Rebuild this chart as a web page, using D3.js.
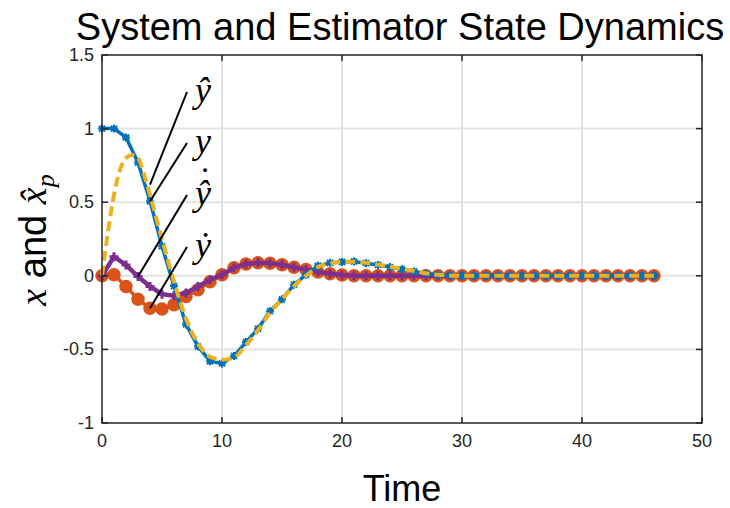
<!DOCTYPE html>
<html><head><meta charset="utf-8">
<script src="https://cdn.jsdelivr.net/npm/d3@7"></script>
<style>body{margin:0;background:#fff}svg{display:block}</style>
</head><body><svg id="c" width="730" height="508"></svg>
<script>
// ---- data ----
const time = d3.range(0, 47); // 0..46
const ySys = [1.0,1.0,0.94,0.77,0.507,0.20,-0.07,-0.33,-0.48,-0.58,-0.595,-0.545,-0.45,-0.36,-0.24,-0.16,-0.06,0.007,0.068,0.088,0.094,0.097,0.086,0.074,0.059,0.045,0.029,0.015,0.006,0.002,0,0,0,0,0,0,0,0,0,0,0,0,0,0,0,0,0];
const estTime = [0,0.5,1,1.5,2,2.5,3,3.5,4,5,6,7,8,9,10,11,12,13,14,15,16,17,18,19,20,21,22,23,24,25,26,27,28,29,30,35,40,46];
const yHat = [0,0.3,0.55,0.72,0.80,0.82,0.80,0.69,0.55,0.25,-0.04,-0.29,-0.46,-0.55,-0.57,-0.555,-0.47,-0.37,-0.25,-0.16,-0.07,0.0,0.06,0.085,0.095,0.096,0.088,0.076,0.062,0.047,0.032,0.017,0.007,0.002,0,0,0,0];
const yDot = [0,0.007,-0.072,-0.16,-0.22,-0.225,-0.196,-0.14,-0.095,-0.04,0.007,0.055,0.08,0.088,0.085,0.075,0.058,0.042,0.026,0.014,0.006,0.001,0,0,0,0,0,0,0,0,0,0,0,0,0,0,0,0,0,0,0,0,0,0,0,0,0];
const yDotHat = [0,0.13,0.074,-0.005,-0.072,-0.125,-0.135,-0.117,-0.072,-0.027,0.007,0.055,0.08,0.088,0.085,0.075,0.058,0.042,0.026,0.014,0.006,0.001,0,0,0,0,0,0,0,0,0,0,0,0,0,0,0,0,0,0,0,0,0,0,0,0,0];
const xTicks = [0,10,20,30,40,50];
const yTicks = [-1,-0.5,0,0.5,1,1.5];
const titleText = "System and Estimator State Dynamics";
const xLabel = "Time";
// annotations: label, extra dot above, anchor point on curve, label height
const notes = [
  {label:"y\u0302", dot:false, t:4, v:0.62, ty:92},
  {label:"y", dot:false, t:4, v:0.507, ty:143},
  {label:"y\u0302", dot:true, t:3, v:-0.005, ty:195},
  {label:"y\u0307", dot:false, t:4, v:-0.22, ty:247}
];

// ---- chart ----
const svg = d3.select("#c");
const x = d3.scaleLinear().domain([0,50]).range([102,702]);
const y = d3.scaleLinear().domain([-1,1.5]).range([423,55]);
const axCol = "#262626";
const sans = "'Liberation Sans', Arial, Helvetica, sans-serif";
const serif = "'Liberation Serif', 'Times New Roman', serif";

// grid
svg.append("g").selectAll("line").data(xTicks.slice(1,-1)).join("line")
  .attr("x1",d=>x(d)).attr("x2",d=>x(d)).attr("y1",y(-1)).attr("y2",y(1.5))
  .attr("stroke","#e3e3e3").attr("stroke-width",2);
svg.append("g").selectAll("line").data(yTicks.slice(1,-1)).join("line")
  .attr("y1",d=>y(d)).attr("y2",d=>y(d)).attr("x1",x(0)).attr("x2",x(50))
  .attr("stroke","#e3e3e3").attr("stroke-width",2);

// series
const plot = svg.append("g");
const lineT = (ts, vs) => d3.line().x((d,i)=>x(ts[i])).y(d=>y(d))(vs);

// orange ydot
plot.append("path").attr("d",lineT(time,yDot)).attr("fill","none")
  .attr("stroke","#D95319").attr("stroke-width",3.5);
plot.append("g").selectAll("circle").data(yDot).join("circle")
  .attr("cx",(d,i)=>x(time[i])).attr("cy",d=>y(d)).attr("r",6)
  .attr("fill","#D95319").attr("stroke","#D95319").attr("stroke-width",1.5);
// purple ydothat
plot.append("path").attr("d",lineT(time,yDotHat)).attr("fill","none")
  .attr("stroke","#7E2F8E").attr("stroke-width",4.5);
plot.append("g").selectAll("path").data(yDotHat).join("path")
  .attr("d",(d,i)=>{const cx=x(time[i]), cy=y(d), s=4.5; return `M${cx-s},${cy}H${cx+s}M${cx},${cy-s}V${cy+s}`;})
  .attr("stroke","#7E2F8E").attr("stroke-width",3).attr("fill","none");
// blue y
plot.append("path").attr("d",lineT(time,ySys)).attr("fill","none")
  .attr("stroke","#0072BD").attr("stroke-width",3.5);
plot.append("g").selectAll("path").data(ySys).join("path")
  .attr("d",(d,i)=>{const cx=x(time[i]), cy=y(d), s=4, t=3; return `M${cx-s},${cy}H${cx+s}M${cx},${cy-s}V${cy+s}M${cx-t},${cy-t}L${cx+t},${cy+t}M${cx-t},${cy+t}L${cx+t},${cy-t}`;})
  .attr("stroke","#0072BD").attr("stroke-width",2).attr("fill","none");
// yellow yhat
plot.append("path").attr("d",d3.line().curve(d3.curveMonotoneX).x((d,i)=>x(estTime[i])).y(d=>y(d))(yHat))
  .attr("fill","none").attr("stroke","#EDB120").attr("stroke-width",4)
  .attr("stroke-dasharray","10,5");

// axes box
const box = svg.append("g").attr("stroke",axCol).attr("stroke-width",1.5).attr("fill","none");
box.append("rect").attr("x",x(0)).attr("y",y(1.5)).attr("width",x(50)-x(0)).attr("height",y(-1)-y(1.5));
box.append("g").selectAll("line").data(xTicks).join("line")
  .attr("x1",d=>x(d)).attr("x2",d=>x(d)).attr("y1",y(-1)).attr("y2",y(-1)-6);
box.append("g").selectAll("line").data(xTicks).join("line")
  .attr("x1",d=>x(d)).attr("x2",d=>x(d)).attr("y1",y(1.5)).attr("y2",y(1.5)+6);
box.append("g").selectAll("line").data(yTicks).join("line")
  .attr("y1",d=>y(d)).attr("y2",d=>y(d)).attr("x1",x(0)).attr("x2",x(0)+6);
box.append("g").selectAll("line").data(yTicks).join("line")
  .attr("y1",d=>y(d)).attr("y2",d=>y(d)).attr("x1",x(50)).attr("x2",x(50)-6);

// tick labels
svg.append("g").selectAll("text").data(xTicks).join("text")
  .attr("x",d=>x(d)).attr("y",y(-1)+24).attr("text-anchor","middle")
  .attr("font-family",sans).attr("font-size",18).attr("fill",axCol).text(d=>d);
svg.append("g").selectAll("text").data(yTicks).join("text")
  .attr("x",x(0)-8).attr("y",d=>y(d)+6).attr("text-anchor","end")
  .attr("font-family",sans).attr("font-size",18).attr("fill",axCol).text(d=>d);

// title and labels
svg.append("text").attr("x",400).attr("y",40).attr("text-anchor","middle")
  .attr("font-family",sans).attr("font-size",38).attr("fill","#000").text(titleText);
svg.append("text").attr("x",402).attr("y",501).attr("text-anchor","middle")
  .attr("font-family",sans).attr("font-size",36).attr("fill","#000").text(xLabel);
const yl = svg.append("text").attr("transform","translate(46,240) rotate(-90)")
  .attr("text-anchor","middle").attr("font-size",38).attr("fill","#000");
yl.append("tspan").attr("font-family",serif).attr("font-style","italic").text("x");
yl.append("tspan").attr("font-family",sans).text(" and ");
yl.append("tspan").attr("font-family",serif).attr("font-style","italic").text("x\u0302");
yl.append("tspan").attr("font-family",serif).attr("font-style","italic").attr("font-size",26).attr("dy",8).text("p");

// annotations
const ann = svg.append("g");
notes.forEach(n=>{
  ann.append("line").attr("x1",187).attr("y1",n.ty).attr("x2",x(n.t)).attr("y2",y(n.v))
    .attr("stroke","#000").attr("stroke-width",2);
  const tx = ann.append("text").attr("x",195).attr("y",n.ty+10).attr("font-family",serif)
    .attr("font-size",36).attr("fill","#000");
  tx.append("tspan").attr("font-style","italic").text(n.label);
  if (n.dot) tx.append("tspan").attr("dx",-12).attr("dy",-13).text("\u02D9");
});
</script></body></html>
